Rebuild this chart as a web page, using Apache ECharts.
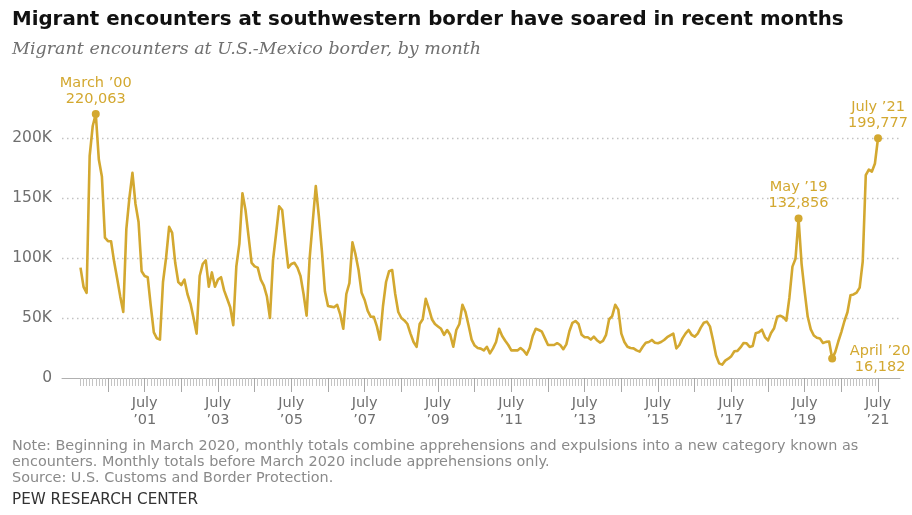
<!DOCTYPE html>
<html><head><meta charset="utf-8">
<script src="https://cdn.jsdelivr.net/npm/echarts@6/dist/echarts.min.js"></script>
<style>html,body{margin:0;padding:0;background:#fff}#c{width:912px;height:515px}</style>
</head><body><div id="c"></div>
<script>
// Monthly series begins October 1999 (fiscal year 2000)
const startYear = 1999, startMonth = 10;
const encounters = [
  92000,76000,71000,185000,210000,220063,182000,168000,117000,114000,114000,97000,
  83000,68000,55000,124000,150000,171000,145000,130000,89000,85000,84000,60000,
  38000,33000,32000,80000,100000,126000,121000,96000,80000,77500,82000,70000,
  62000,50000,37000,85000,95000,98000,76000,88000,76000,82000,84000,73000,
  66000,59000,44000,93000,112000,154000,140000,118000,96000,93000,92000,82000,
  77000,68000,50000,98000,120000,143000,140000,115000,92000,95000,96000,92000,
  85000,70000,52000,100000,130000,160000,135000,106000,72000,60000,59500,59000,
  61000,53000,41000,70000,79000,113000,103000,90000,71000,65000,56000,51000,
  51000,43000,32000,60000,80000,89000,90000,70000,55000,50000,48000,45000,
  37000,30000,26000,45000,49000,66000,58000,49000,45000,43000,41000,36000,
  40000,36000,26000,40000,45000,61000,55000,44000,32000,27000,25000,24500,
  23000,26000,20500,24700,30000,41000,35000,31000,27500,23000,23000,23000,
  25000,23000,19500,25000,35000,41000,40000,38600,33000,27500,27500,27500,
  29000,27500,24000,28000,39000,46000,47500,45000,36000,34000,34000,32000,
  34500,31500,29500,31000,36000,49000,51500,61000,57000,37000,30000,26000,
  25000,24700,23000,22000,26000,29400,30000,31700,29400,29000,30000,31700,
  34000,35500,37000,24700,27500,33000,37000,40000,36000,34400,37000,42000,
  46000,47000,43000,31600,18800,12200,11100,14500,16100,18200,22300,22600,
  25500,29100,28900,25900,26700,37400,38200,40300,34100,31300,37500,41500,
  51000,51900,50700,47900,66900,92800,99300,132856,94900,71900,51000,40500,
  35400,33500,32900,29200,30100,30400,16182,21600,30400,38300,47300,54800,
  69000,69600,71100,75300,96900,169000,173700,172000,178800,199777
];
const yMax = 250000, yStep = 50000;
const xLabelMonths = ['2001-07','2003-07','2005-07','2007-07','2009-07','2011-07','2013-07','2015-07','2017-07','2019-07','2021-07'];
const xLabelTexts = ['July\n’01','July\n’03','July\n’05','July\n’07','July\n’09','July\n’11','July\n’13','July\n’15','July\n’17','July\n’19','July\n’21'];
const annotations = [
  {month:'2000-03', title:'March ’00', side:'top'},
  {month:'2019-05', title:'May ’19', side:'top'},
  {month:'2020-04', title:'April ’20', side:'right'},
  {month:'2021-07', title:'July ’21', side:'top'}
];

const months = [];
for (let k = 0; k < encounters.length; k++) {
  const m0 = startMonth - 1 + k;
  months.push((startYear + Math.floor(m0 / 12)) + '-' + String(m0 % 12 + 1).padStart(2, '0'));
}

const SANS = "'DejaVu Sans', Verdana, sans-serif";
const GOLD = '#d3a830';
const chart = echarts.init(document.getElementById('c'), null, {renderer: 'canvas'});

const markData = annotations.map(a => {
  const idx = months.indexOf(a.month);
  const d = {name: a.title, value: encounters[idx], coord: [a.month, encounters[idx]]};
  if (a.side === 'right') {
    d.label = {position: 'right', align: 'center', distance: 0, offset: [44, 1]};
  }
  return d;
});

chart.setOption({
  animation: false,
  backgroundColor: '#fff',
  title: {
    left: 12, top: 10, padding: 0,
    text: 'Migrant encounters at southwestern border have soared in recent months',
    textStyle: {fontFamily: SANS, fontWeight: 'bold', fontSize: 19.8, color: '#111'},
    subtext: 'Migrant encounters at U.S.-Mexico border, by month',
    subtextStyle: {fontFamily: "'DejaVu Serif', Georgia, serif", fontStyle: 'italic', fontSize: 17.5, color: '#707070'},
    itemGap: 10
  },
  grid: [
    {left: 62, right: 12, top: 78, bottom: 137},
    {left: 80.5, right: 34, top: 78, bottom: 137}
  ],
  xAxis: [
    {gridIndex: 0, type: 'value', min: 0, max: 1, position: 'bottom',
     axisLine: {show: true, onZero: false, lineStyle: {color: '#b0b0b0', width: 1}},
     axisTick: {show: false}, axisLabel: {show: false}, splitLine: {show: false}},
    {gridIndex: 1, type: 'category', data: months, boundaryGap: false, position: 'bottom',
     axisLine: {show: false, onZero: false},
     axisTick: {show: true, interval: 0, length: 8, lineStyle: {color: '#c4c4c4', width: 1}},
     axisLabel: {
       interval: (i, v) => xLabelMonths.indexOf(v) >= 0,
       formatter: v => { const j = xLabelMonths.indexOf(v); return j >= 0 ? xLabelTexts[j] : ''; },
       margin: 17, color: '#6f6f6f', fontFamily: SANS, fontSize: 14.5, lineHeight: 17
     },
     splitLine: {show: false}},
    {gridIndex: 1, type: 'category', data: months, boundaryGap: false, position: 'bottom',
     axisLine: {show: false, onZero: false},
     axisTick: {show: true, interval: (i, v) => v.endsWith('-07'), length: 14, lineStyle: {color: '#a8a8a8', width: 1}},
     axisLabel: {show: false}, splitLine: {show: false}}
  ],
  yAxis: [
    {gridIndex: 0, type: 'value', min: 0, max: yMax, interval: yStep,
     axisLine: {show: false}, axisTick: {show: false},
     axisLabel: {showMaxLabel: false, margin: 10, color: '#6f6f6f', fontFamily: SANS, fontSize: 15.5,
       formatter: v => v === 0 ? '0' : (v / 1000) + 'K'},
     splitLine: {show: true, showMinLine: false, showMaxLine: false,
       lineStyle: {color: '#c2c2c2', width: 1.3, type: [1.5, 3.5]}}},
    {gridIndex: 1, type: 'value', min: 0, max: yMax, interval: yStep, show: false}
  ],
  series: [{
    type: 'line', xAxisIndex: 1, yAxisIndex: 1, data: encounters,
    showSymbol: false, smooth: false,
    lineStyle: {color: GOLD, width: 2.6, join: 'round'},
    itemStyle: {color: GOLD},
    markPoint: {
      symbol: 'circle', symbolSize: 8, silent: true,
      itemStyle: {color: GOLD},
      label: {show: true, position: 'top', distance: 3, align: 'center',
        color: GOLD, fontFamily: SANS, fontSize: 14.5, lineHeight: 16,
        formatter: p => p.name + '\n' + Number(p.value).toLocaleString('en-US')},
      data: markData
    }
  }],
  graphic: [
    {type: 'text', left: 12, top: 438, style: {
      text: 'Note: Beginning in March 2020, monthly totals combine apprehensions and expulsions into a new category known as\nencounters. Monthly totals before March 2020 include apprehensions only.\nSource: U.S. Customs and Border Protection.',
      fontFamily: SANS, fontSize: 14.4, lineHeight: 16, fill: '#8a8a8a'}},
    {type: 'text', left: 12, top: 493, style: {
      text: 'PEW RESEARCH CENTER', fontFamily: SANS, fontSize: 15.2, fill: '#333'}}
  ]
});
</script></body></html>
